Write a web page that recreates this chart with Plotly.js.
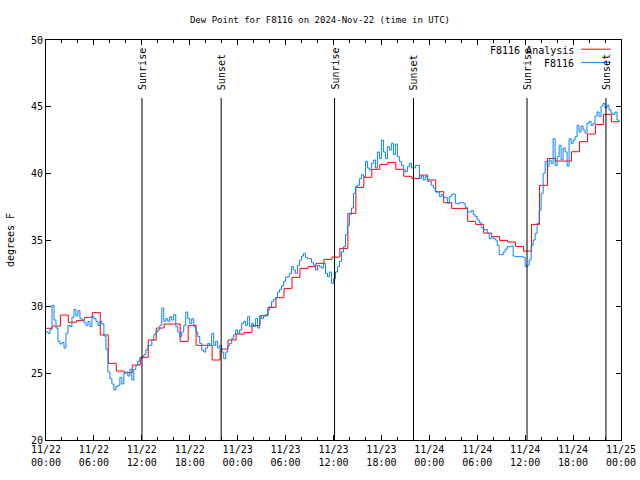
<!DOCTYPE html>
<html>
<head>
<meta charset="utf-8">
<script src="https://cdn.plot.ly/plotly-3.0.1.min.js"></script>
<style>html,body{margin:0;padding:0;background:#fff;}#chart{width:640px;height:480px;}</style>
</head>
<body>
<div id="chart"></div>
<script>
// ---- data ----
const chartTitle = 'Dew Point for F8116 on 2024-Nov-22 (time in UTC)';
const yAxisLabel = 'degrees F';
const seriesNames = ['F8116 Analysis', 'F8116'];

// hourly analysis values (step starts at 48 min past each hour, first one 2024-11-21 23:48)
const analysisStart = '2024-11-21T23:48:00Z';
const analysisDew = [
  28.38, 28.55, 29.37, 28.83, 28.95, 29.2, 29.55, 27.88, 25.75, 25.17, 25.05, 25.62,
  26.2, 27.5, 28.4, 28.7, 28.7, 27.4, 28.6, 27.1, 27.1, 26.0, 26.82, 27.5,
  27.95, 28.07, 28.58, 29.32, 29.95, 30.67, 31.37, 32.2, 32.87, 33.0, 33.25, 33.55,
  33.72, 34.37, 37.0, 38.95, 39.7, 40.3, 40.67, 40.82, 40.3, 39.78, 39.62, 39.87,
  39.5, 38.62, 37.8, 37.37, 37.37, 36.4, 36.17, 35.52, 35.25, 34.97, 34.85, 34.52,
  34.17, 36.17, 39.1, 41.12, 40.92, 40.92, 41.62, 42.37, 42.95, 43.67, 44.42, 43.87,
  43.87
];

// station observations every 15 minutes from 2024-11-22 00:00
const obsStart = '2024-11-22T00:00:00Z';
const obsDew = [
  28.1, 28.0, 28.3, 30.1,   29.0, 28.4, 27.4, 27.2,   27.3, 26.9, 28.0, 28.6,   28.5, 29.2, 29.8, 29.3,
  29.7, 29.1, 29.0, 28.8,   28.6, 28.9, 28.5, 29.3,   29.1, 28.9, 28.6, 28.9,   28.7, 27.8, 26.8, 25.1,
  24.6, 24.2, 23.75, 24.0,  24.1, 24.7, 24.2, 25.0,   25.1, 24.8, 25.3, 24.5,   25.3, 25.6, 25.9, 26.1,
  26.25, 26.4, 26.75, 27.1, 27.1, 27.5, 27.9, 28.1,   28.25, 28.6, 29.9, 28.9,  29.1, 28.9, 29.25, 29.0,
  29.4, 28.5, 28.1, 27.75,  28.1, 28.6, 29.6, 29.1,   28.75, 29.1, 28.5, 28.1,  27.75, 27.25, 26.75, 26.6,
  26.9, 27.25, 27.1, 28.0,  27.1, 27.4, 26.9, 27.1,   26.6, 26.1, 26.6, 27.1,   27.25, 27.6, 27.9, 28.25,
  28.0, 28.25, 28.75, 28.9, 28.6, 29.25, 28.5, 28.75, 28.5, 29.1, 28.4, 29.25,  29.1, 29.3, 29.4, 29.75,
  30.0, 30.4, 30.55, 30.7,  31.1, 31.3, 31.55, 31.9,  32.2, 32.25, 32.5, 33.0,  32.75, 32.5, 33.1, 33.5,
  33.8, 34.0, 33.7, 33.6,   33.6, 33.3, 33.1, 32.75,  33.1, 33.0, 32.9, 33.25,  32.5, 32.25, 32.6, 31.75,
  32.1, 32.6, 33.0, 33.4,   34.1, 34.5, 35.4, 36.1,   36.9, 37.4, 38.5, 39.0,   39.1, 39.6, 39.9, 39.75,
  40.9, 40.4, 40.25, 40.75, 41.0, 40.4, 41.6, 41.1,   42.5, 41.6, 41.1, 42.0,   41.75, 42.25, 41.4, 42.2,
  41.25, 40.9, 40.6, 40.25, 40.1, 40.5, 40.75, 40.4,  40.4, 40.6, 40.6, 39.6,   39.8, 39.5, 39.75, 39.4,
  39.4, 39.1, 38.9, 38.6,   38.6, 38.25, 38.4, 38.2,  38.2, 37.75, 38.25, 38.4, 38.45, 37.75, 37.7, 37.8,
  37.8, 37.75, 37.45, 37.1, 37.1, 37.2, 36.9, 36.75,  36.5, 36.3, 35.95, 35.75, 35.8, 35.5, 35.1, 35.25,
  35.1, 35.0, 34.6, 33.9,   33.9, 34.1, 34.3, 34.5,   34.5, 34.55, 33.8, 33.75, 33.75, 33.75, 33.75, 33.7,
  33.0, 33.1, 33.5, 34.6,   35.0, 35.5, 36.25, 37.25, 38.5, 40.0, 40.9, 40.5,   41.0, 40.75, 42.6, 40.6,
  41.25, 42.1, 41.0, 41.9,  41.6, 40.55, 42.6, 42.25, 42.5, 42.75, 43.6, 43.1,  43.55, 43.25, 43.0, 43.75,
  43.9, 43.6, 43.75, 44.3,  44.6, 44.25, 45.05, 45.25, 44.9, 45.1, 44.75, 44.5, 44.4, 44.6, 44.0, 43.9
];

const sunEventTimes = ['2024-11-22 12:01', '2024-11-22 21:56', '2024-11-23 12:08',
                       '2024-11-23 22:01', '2024-11-24 12:14', '2024-11-24 22:07'];
const sunEventLabels = ['Sunrise', 'Sunset', 'Sunrise', 'Sunset', 'Sunrise', 'Sunset'];

const xRange = ['2024-11-22 00:00', '2024-11-25 00:00'];
const yRange = [20, 50];

// ---- helpers ----
function fmt(ms) { return new Date(ms).toISOString().replace('T', ' ').slice(0, 19); }
const aStart = Date.parse(analysisStart), oStart = Date.parse(obsStart);
const analysisTimes = analysisDew.map((_, i) => fmt(aStart + i * 3600000));
const obsTimes = obsDew.map((_, i) => fmt(oStart + i * 900000));

const FONT = {family: 'DejaVu Sans Mono, Liberation Mono, monospace', size: 10, color: '#000'};
const TITLE_FONT = {family: 'DejaVu Sans Mono, Liberation Mono, monospace', size: 9, color: '#000'};
const RED = '#ff0000', BLUE = '#0a84f5';

const traces = [
  {x: analysisTimes, y: analysisDew, type: 'scatter', mode: 'lines', name: seriesNames[0],
   line: {color: RED, width: 1, shape: 'hv'}, showlegend: false, hoverinfo: 'skip'},
  {x: obsTimes, y: obsDew, type: 'scatter', mode: 'lines', name: seriesNames[1],
   line: {color: BLUE, width: 1, shape: 'hv'}, showlegend: false, hoverinfo: 'skip'}
];

const shapes = sunEventTimes.map(t => ({type: 'line', xref: 'x', yref: 'y', x0: t, x1: t,
  y0: yRange[0], y1: 45.65, line: {color: '#000', width: 1}, layer: 'above'}));
// legend samples
shapes.push({type: 'line', xref: 'paper', yref: 'paper', x0: 0.9307, x1: 0.9817, y0: 0.977, y1: 0.977,
  line: {color: RED, width: 1}});
shapes.push({type: 'line', xref: 'paper', yref: 'paper', x0: 0.9307, x1: 0.9817, y0: 0.944, y1: 0.944,
  line: {color: BLUE, width: 1}});

const annotations = sunEventTimes.map((t, i) => ({x: t, y: 46.1, xref: 'x', yref: 'y',
  text: sunEventLabels[i], showarrow: false, textangle: -90, xanchor: 'center', yanchor: 'bottom',
  font: FONT}));
annotations.push({x: 0.9225, y: 0.975, xref: 'paper', yref: 'paper', text: seriesNames[0],
  showarrow: false, xanchor: 'right', yanchor: 'middle', font: FONT});
annotations.push({x: 0.9225, y: 0.942, xref: 'paper', yref: 'paper', text: seriesNames[1],
  showarrow: false, xanchor: 'right', yanchor: 'middle', font: FONT});

const layout = {
  width: 640, height: 480,
  margin: {l: 46, r: 19, t: 40, b: 40, pad: 0},
  paper_bgcolor: '#fff', plot_bgcolor: '#fff',
  font: FONT,
  showlegend: false,
  title: {text: chartTitle, font: TITLE_FONT, x: 0.5, xref: 'container', y: 0.958, yref: 'container',
          xanchor: 'center', yanchor: 'middle'},
  xaxis: {type: 'date', range: xRange, dtick: 21600000, tick0: '2024-11-22 00:00',
          tickformat: '%m/%d<br>%H:%M', ticks: 'inside', ticklen: 5, tickcolor: '#000',
          showline: true, linecolor: '#000', linewidth: 1, mirror: 'ticks',
          showgrid: false, zeroline: false, tickfont: FONT, automargin: false,
          minor: {dtick: 7200000, ticks: 'inside', ticklen: 3, tickcolor: '#000', showgrid: false}},
  yaxis: {range: yRange, dtick: 5, ticks: 'inside', ticklen: 5, tickcolor: '#000',
          showline: true, linecolor: '#000', linewidth: 1, mirror: 'ticks',
          showgrid: false, zeroline: false, tickfont: FONT, automargin: false,
          title: {text: yAxisLabel, font: FONT, standoff: 14}},
  shapes: shapes,
  annotations: annotations
};

Plotly.newPlot('chart', traces, layout, {staticPlot: true, displayModeBar: false});
</script>
</body>
</html>
